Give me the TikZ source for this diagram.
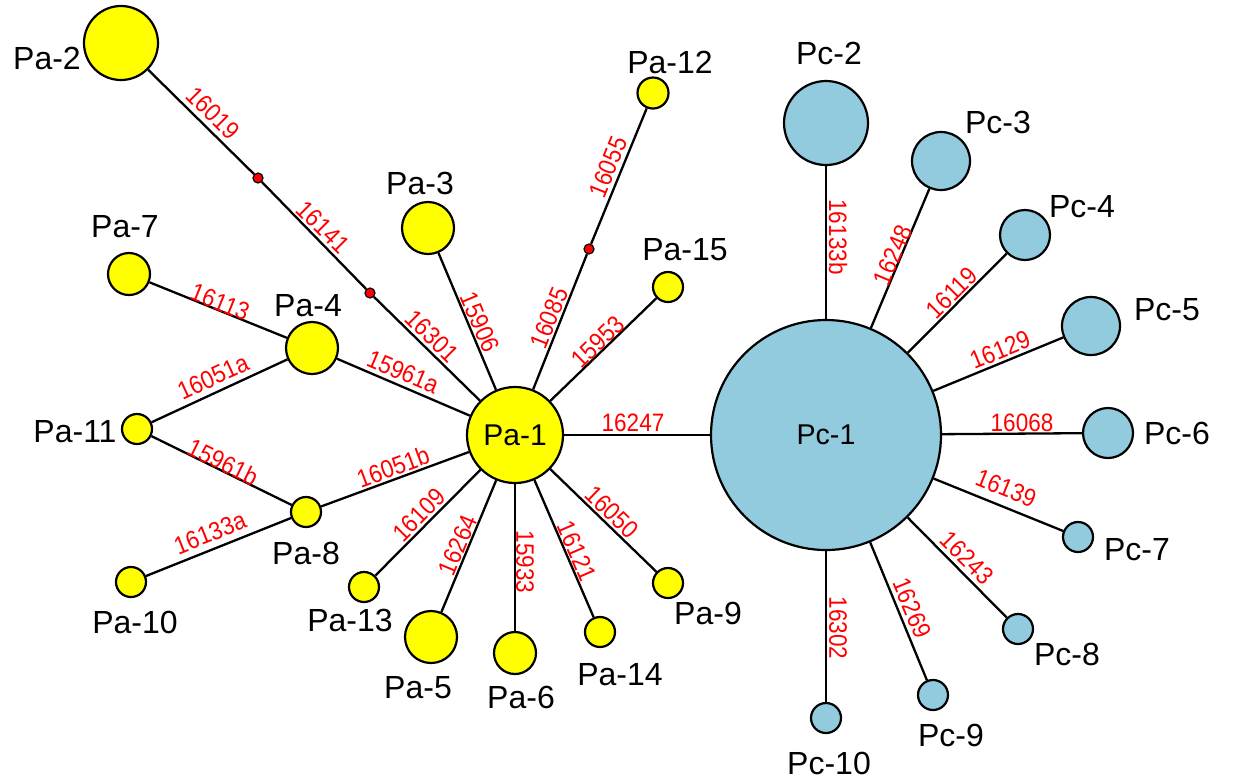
\documentclass[tikz,border=0pt]{standalone}
\usepackage{fontspec}
\setmainfont{Liberation Sans}
\definecolor{hapyellow}{RGB}{255,255,0}
\definecolor{hapblue}{RGB}{146,203,222}
\newcommand\mtxt[1]{\scalebox{1}[1.12]{#1}}
\begin{document}
\begin{tikzpicture}[x=0.5pt,y=-0.5pt,
 hap/.style={circle, draw=black, line width=1.1pt, inner sep=0pt},
 pa/.style={hap, fill=hapyellow},
 pc/.style={hap, fill=hapblue},
 mv/.style={circle, draw=black, line width=0.6pt, fill=red, inner sep=0pt, minimum size=5pt},
 lab/.style={font=\fontsize{16}{19}\selectfont, inner sep=0pt},
 mut/.style={font=\fontsize{11.25}{13}\selectfont, text=red, inner sep=0pt},
 link/.style={line width=1.15pt, draw=black}]
\useasboundingbox (0,0) rectangle (1245,778);
% Pa haplotypes
\node[pa, minimum size=48pt, font=\fontsize{15}{18}\selectfont] (pa1) at (515,435) {Pa-1};
\node[pa, minimum size=37pt] (pa2) at (121,43) {};
\node[pa, minimum size=26pt] (pa3) at (428,228) {};
\node[pa, minimum size=26pt] (pa4) at (312,348) {};
\node[pa, minimum size=26pt] (pa5) at (431,637) {};
\node[pa, minimum size=21pt] (pa6) at (515,653) {};
\node[pa, minimum size=21pt] (pa7) at (129,274) {};
\node[pa, minimum size=15pt] (pa8) at (306,512) {};
\node[pa, minimum size=15pt] (pa9) at (668,583) {};
\node[pa, minimum size=15pt] (pa10) at (131,582) {};
\node[pa, minimum size=15pt] (pa11) at (137,429) {};
\node[pa, minimum size=15.5pt] (pa12) at (653,93) {};
\node[pa, minimum size=15pt] (pa13) at (364,587) {};
\node[pa, minimum size=15pt] (pa14) at (600,632) {};
\node[pa, minimum size=15pt] (pa15) at (668,287) {};
\node[mv] (m1) at (258,178) {};
\node[mv] (m2) at (370,293) {};
\node[mv] (m3) at (589,249) {};
% Pc haplotypes
\node[pc, minimum size=115pt, font=\fontsize{14.3}{17}\selectfont] (pc1) at (826,435) {Pc-1};
\node[pc, minimum size=42pt] (pc2) at (826,123) {};
\node[pc, minimum size=29pt] (pc3) at (941,161) {};
\node[pc, minimum size=25pt] (pc4) at (1025,235) {};
\node[pc, minimum size=29pt] (pc5) at (1091,326) {};
\node[pc, minimum size=25pt] (pc6) at (1108,433) {};
\node[pc, minimum size=15pt] (pc7) at (1078,537) {};
\node[pc, minimum size=15pt] (pc8) at (1018,629) {};
\node[pc, minimum size=15pt] (pc9) at (933,695) {};
\node[pc, minimum size=15pt] (pc10) at (826,718) {};
% connectors
\draw[link] (pa2) -- (m1);
\draw[link] (m1) -- (m2);
\draw[link] (m2) -- (pa1);
\draw[link] (pa3) -- (pa1);
\draw[link] (pa1) -- (m3);
\draw[link] (m3) -- (pa12);
\draw[link] (pa1) -- (pa15);
\draw[link] (pa7) -- (pa4);
\draw[link] (pa4) -- (pa1);
\draw[link] (pa11) -- (pa4);
\draw[link] (pa11) -- (pa8);
\draw[link] (pa8) -- (pa1);
\draw[link] (pa10) -- (pa8);
\draw[link] (pa13) -- (pa1);
\draw[link] (pa5) -- (pa1);
\draw[link] (pa6) -- (pa1);
\draw[link] (pa14) -- (pa1);
\draw[link] (pa9) -- (pa1);
\draw[link] (pa1) -- (pc1);
\draw[link] (pc1) -- (pc2);
\draw[link] (pc1) -- (pc3);
\draw[link] (pc1) -- (pc4);
\draw[link] (pc1) -- (pc5);
\draw[link] (pc1) -- (pc6);
\draw[link] (pc1) -- (pc7);
\draw[link] (pc1) -- (pc8);
\draw[link] (pc1) -- (pc9);
\draw[link] (pc1) -- (pc10);
% haplotype labels
\node[lab] (lpa2) at (47,58) {Pa-2};
\node[lab] (lpa3) at (420,183) {Pa-3};
\node[lab] (lpa4) at (308,306) {Pa-4};
\node[lab] (lpa5) at (418,688) {Pa-5};
\node[lab] (lpa6) at (521,697) {Pa-6};
\node[lab] (lpa7) at (125,227) {Pa-7};
\node[lab] (lpa8) at (306,553) {Pa-8};
\node[lab] (lpa9) at (708,613) {Pa-9};
\node[lab] (lpa10) at (135,622) {Pa-10};
\node[lab] (lpa11) at (75,432) {Pa-11};
\node[lab] (lpa12) at (670,62) {Pa-12};
\node[lab] (lpa13) at (350,620) {Pa-13};
\node[lab] (lpa14) at (620,675) {Pa-14};
\node[lab] (lpa15) at (685,250) {Pa-15};
\node[lab] (lpc2) at (829,53) {Pc-2};
\node[lab] (lpc3) at (998,122) {Pc-3};
\node[lab] (lpc4) at (1082,207) {Pc-4};
\node[lab] (lpc5) at (1167,310) {Pc-5};
\node[lab] (lpc6) at (1177,433) {Pc-6};
\node[lab] (lpc7) at (1137,550) {Pc-7};
\node[lab] (lpc8) at (1067,654) {Pc-8};
\node[lab] (lpc9) at (951,735) {Pc-9};
\node[lab] (lpc10) at (829,763) {Pc-10};
% mutation labels
\node[mut, rotate=-45] (t1) at (213,113) {\mtxt{16019}};
\node[mut, rotate=-45] (t2) at (323,227) {\mtxt{16141}};
\node[mut, rotate=-45] (t3) at (432,336) {\mtxt{16301}};
\node[mut, rotate=-67.2] (t4) at (480,322) {\mtxt{15906}};
\node[mut, rotate=68] (t5) at (549,318) {\mtxt{16085}};
\node[mut, rotate=68] (t6) at (608,167) {\mtxt{16055}};
\node[mut, rotate=44] (t7) at (598,342) {\mtxt{15953}};
\node[mut, rotate=-22] (t8) at (220,302) {\mtxt{16113}};
\node[mut, rotate=-23.2] (t9) at (403,372) {\mtxt{15961a}};
\node[mut, rotate=24.8] (t10) at (213,377) {\mtxt{16051a}};
\node[mut, rotate=-26.2] (t11) at (223,462) {\mtxt{15961b}};
\node[mut, rotate=20.2] (t12) at (393,467) {\mtxt{16051b}};
\node[mut, rotate=21.8] (t13) at (210,533) {\mtxt{16133a}};
\node[mut, rotate=45.2] (t14) at (419,515) {\mtxt{16109}};
\node[mut, rotate=67.4] (t15) at (458,545) {\mtxt{16264}};
\node[mut, rotate=-90] (t16) at (525,562) {\mtxt{15933}};
\node[mut, rotate=-66.7] (t17) at (577,551) {\mtxt{16121}};
\node[mut, rotate=-44] (t18) at (612,512) {\mtxt{16050}};
\node[mut] (t19) at (633,423) {\mtxt{16247}};
\node[mut, rotate=-90] (t20) at (838,237) {\mtxt{16133b}};
\node[mut, rotate=67.2] (t21) at (893,255) {\mtxt{16248}};
\node[mut, rotate=45] (t22) at (952,293) {\mtxt{16119}};
\node[mut, rotate=22.4] (t23) at (1000,350) {\mtxt{16129}};
\node[mut] (t24) at (1022,423) {\mtxt{16068}};
\node[mut, rotate=-22] (t25) at (1006,488) {\mtxt{16139}};
\node[mut, rotate=-45.3] (t26) at (967,558) {\mtxt{16243}};
\node[mut, rotate=-67.6] (t27) at (912,608) {\mtxt{16269}};
\node[mut, rotate=-90] (t28) at (838,628) {\mtxt{16302}};
\end{tikzpicture}
\end{document}
